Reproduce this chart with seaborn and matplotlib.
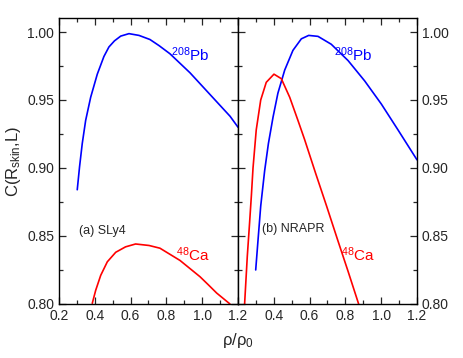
import matplotlib
matplotlib.use("Agg")
import matplotlib.pyplot as plt
import seaborn as sns
from matplotlib.ticker import MultipleLocator

# (a) SLy4
sly4_pb_x = [0.302, 0.315, 0.330, 0.349, 0.377, 0.414, 0.451, 0.479, 0.510, 0.545,
             0.591, 0.647, 0.708, 0.759, 0.820, 0.876, 0.932, 0.988, 1.044, 1.100,
             1.156, 1.200]
sly4_pb_y = [0.884, 0.901, 0.918, 0.935, 0.952, 0.969, 0.982, 0.989, 0.9935, 0.997,
             0.9988, 0.9975, 0.9945, 0.990, 0.984, 0.977, 0.970, 0.962, 0.954, 0.946,
             0.938, 0.930]
sly4_ca_x = [0.386, 0.405, 0.433, 0.470, 0.517, 0.572, 0.628, 0.703, 0.764, 0.820,
             0.876, 0.932, 0.988, 1.035, 1.081, 1.155]
sly4_ca_y = [0.8005, 0.810, 0.821, 0.831, 0.838, 0.842, 0.8441, 0.843, 0.841, 0.8365,
             0.832, 0.826, 0.820, 0.814, 0.808, 0.800]

# (b) NRAPR
nrapr_pb_x = [0.299, 0.312, 0.327, 0.349, 0.370, 0.396, 0.423, 0.461, 0.507, 0.554,
              0.595, 0.647, 0.721, 0.815, 0.908, 1.001, 1.094, 1.200]
nrapr_pb_y = [0.825, 0.847, 0.872, 0.898, 0.918, 0.9375, 0.955, 0.972, 0.9865, 0.995,
              0.9975, 0.9968, 0.991, 0.979, 0.964, 0.947, 0.928, 0.906]
nrapr_ca_x = [0.237, 0.252, 0.265, 0.275, 0.284, 0.302, 0.327, 0.358, 0.401, 0.442,
              0.489, 0.535, 0.572, 0.634, 0.695, 0.757, 0.815, 0.874]
nrapr_ca_y = [0.800, 0.835, 0.860, 0.880, 0.900, 0.928, 0.950, 0.963, 0.969, 0.9657,
              0.952, 0.935, 0.921, 0.896, 0.872, 0.847, 0.824, 0.800]

panel_names = ["(a) SLy4", "(b) NRAPR"]

sns.set_style("ticks")
plt.rcParams["font.family"] = ["Liberation Sans", "DejaVu Sans"]
plt.rcParams["mathtext.fontset"] = "custom"
plt.rcParams["mathtext.rm"] = "Liberation Sans"
plt.rcParams["mathtext.it"] = "Liberation Sans"

fig = plt.figure(figsize=(4.63, 3.58), dpi=100)
ax1 = fig.add_axes([0.1274, 0.151, 0.3866, 0.7987])
ax2 = fig.add_axes([0.5140, 0.151, 0.3866, 0.7987])

data = [
    (sly4_pb_x, sly4_pb_y, sly4_ca_x, sly4_ca_y),
    (nrapr_pb_x, nrapr_pb_y, nrapr_ca_x, nrapr_ca_y),
]

for ax, (pbx, pby, cax, cay) in zip([ax1, ax2], data):
    sns.lineplot(x=pbx, y=pby, ax=ax, color="#0000ff", lw=1.2, sort=False)
    sns.lineplot(x=cax, y=cay, ax=ax, color="#ff0000", lw=1.2, sort=False)
    ax.set_xlim(0.2, 1.2)
    ax.set_ylim(0.80, 1.0103)
    ax.xaxis.set_major_locator(MultipleLocator(0.2))
    ax.xaxis.set_minor_locator(MultipleLocator(0.1))
    ax.yaxis.set_major_locator(MultipleLocator(0.05))
    ax.yaxis.set_minor_locator(MultipleLocator(0.025))
    ax.tick_params(which="both", direction="in", top=True, right=True,
                   left=True, bottom=True, labelsize=10, width=0.9)
    ax.tick_params(which="major", length=5)
    ax.tick_params(which="minor", length=3)
    for s in ax.spines.values():
        s.set_linewidth(1.0)
        s.set_color("black")
    ax.yaxis.set_major_formatter(plt.FuncFormatter(lambda v, p: f"{v:.2f}"))

ax1.xaxis.set_major_formatter(plt.FuncFormatter(lambda v, p: f"{v:.1f}"))
# the shared edge keeps only the left panel's 1.2
ax2.xaxis.set_major_formatter(
    plt.FuncFormatter(lambda v, p: "" if abs(v - 0.2) < 1e-6 else f"{v:.1f}"))
ax2.tick_params(labelleft=False, labelright=True)

ax1.text(0.932, 0.983, r"$^{208}$Pb", color="#0000ff", fontsize=11, ha="center", va="center")
ax2.text(0.842, 0.983, r"$^{208}$Pb", color="#0000ff", fontsize=11, ha="center", va="center")
ax1.text(0.949, 0.836, r"$^{48}$Ca", color="#ff0000", fontsize=11, ha="center", va="center")
ax2.text(0.870, 0.836, r"$^{48}$Ca", color="#ff0000", fontsize=11, ha="center", va="center")
ax1.text(0.44, 0.854, panel_names[0], fontsize=9, ha="center", va="center")
ax2.text(0.507, 0.855, panel_names[1], fontsize=9, ha="center", va="center")

fig.text(0.03, 0.55, r"C(R$_{\rm skin}$,L)", rotation=90, ha="center", va="center", fontsize=12)
fig.text(0.514, 0.05, r"ρ/ρ$_0$", ha="center", va="center", fontsize=12)

fig.savefig("out.png", dpi=100)
